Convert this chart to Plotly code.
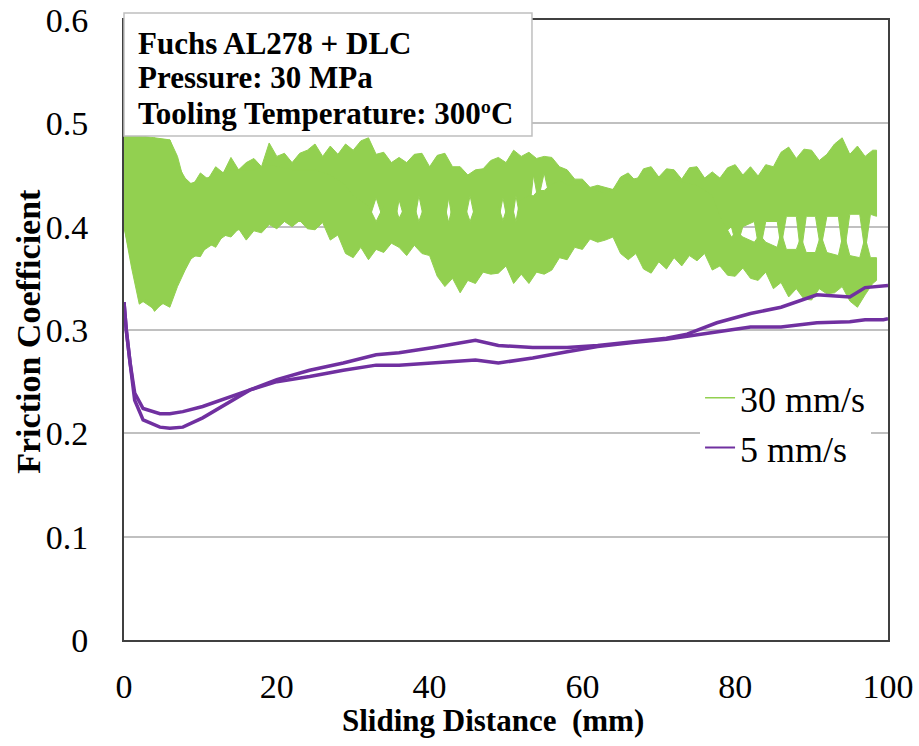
import plotly.graph_objects as go

# ---- 30 mm/s: two repeat runs, each drawn as the band its oscillation covers ----
# run 1 (upper band): top edge
r1_top_x = list(range(0, 99)) + [98.5]
r1_top_y = [0.490, 0.486, 0.488, 0.482, 0.486, 0.478, 0.484, 0.460, 0.447, 0.440,
            0.452, 0.446, 0.458, 0.452, 0.467, 0.455, 0.462, 0.466, 0.458, 0.481,
            0.468, 0.471, 0.462, 0.471, 0.474, 0.480, 0.468, 0.478, 0.470, 0.480,
            0.474, 0.483, 0.486, 0.470, 0.472, 0.462, 0.467, 0.462, 0.470, 0.471,
            0.458, 0.469, 0.471, 0.458, 0.458, 0.450, 0.455, 0.456, 0.464, 0.467,
            0.462, 0.474, 0.468, 0.472, 0.466, 0.468, 0.467, 0.458, 0.455, 0.446,
            0.446, 0.438, 0.440, 0.438, 0.436, 0.448, 0.452, 0.444, 0.456, 0.458,
            0.448, 0.456, 0.455, 0.446, 0.457, 0.458, 0.447, 0.453, 0.447, 0.457,
            0.460, 0.450, 0.458, 0.449, 0.460, 0.458, 0.472, 0.477, 0.466, 0.475,
            0.474, 0.464, 0.470, 0.480, 0.486, 0.470, 0.478, 0.468, 0.474, 0.474]
# run 1: bottom edge
r1_low_x = [0, 2, 4, 6, 8, 10, 14, 19, 25, 30,
            32, 33, 34, 35.5, 36, 36.8, 38, 38.6, 39.3, 42, 42.5, 43, 44.6, 45.3, 46,
            49, 49.6, 50.2, 50.8, 51.3, 51.8, 53, 53.6, 54.2, 55, 55.8, 57,
            58, 60, 63, 66, 69, 73, 76,
            77, 78, 79.5, 80.2, 81, 82.5, 83.2, 84, 85.5, 86, 86.7, 88, 88.6, 89.3,
            90.5, 91.2, 92, 93.5, 94.2, 95, 96.3, 97, 97.7, 98.5]
r1_low_y = [0.40, 0.33, 0.32, 0.33, 0.365, 0.375, 0.395, 0.405, 0.405, 0.405,
            0.405, 0.428, 0.405, 0.405, 0.426, 0.405, 0.405, 0.43, 0.405, 0.405,
            0.428, 0.405, 0.405, 0.43, 0.405, 0.405, 0.428, 0.405, 0.405, 0.43,
            0.41, 0.412, 0.45, 0.425, 0.452, 0.425, 0.42,
            0.41, 0.395, 0.395, 0.385, 0.38, 0.385, 0.39,
            0.39, 0.39, 0.40, 0.38, 0.40, 0.405, 0.375, 0.405, 0.405, 0.38, 0.41,
            0.41, 0.372, 0.41, 0.41, 0.378, 0.41, 0.41, 0.37, 0.412, 0.412, 0.375,
            0.412, 0.41]

# run 2 (lower band): top edge
r2_top_x = [0, 2, 4, 6, 7, 8, 10, 12, 14, 17, 19, 22, 25, 27, 29, 30,
            32, 33, 34, 35.5, 36, 36.8, 38, 38.6, 39.3, 42, 42.5, 43, 44.6, 45.3, 46,
            49, 49.6, 50.2, 50.8, 51.3, 51.8, 53, 53.6, 54.2, 55, 55.8, 57,
            58, 60, 63, 66, 69, 72, 75,
            77, 78, 79.5, 80.2, 81, 82.5, 83.2, 84, 85.5, 86, 86.7, 88, 88.6, 89.3,
            90.5, 91.2, 92, 93.5, 94.2, 95, 96.3, 97, 97.7, 98.5]
r2_top_y = [0.49, 0.488, 0.486, 0.484, 0.468, 0.44, 0.445, 0.45, 0.455, 0.455, 0.46,
            0.455, 0.455, 0.45, 0.44, 0.43,
            0.42, 0.405, 0.42, 0.42, 0.408, 0.42, 0.42, 0.405, 0.42, 0.42, 0.404,
            0.42, 0.42, 0.405, 0.42, 0.42, 0.406, 0.42, 0.42, 0.405, 0.425, 0.43,
            0.43, 0.435, 0.435, 0.44, 0.445,
            0.44, 0.44, 0.432, 0.445, 0.45, 0.445, 0.44,
            0.43, 0.41, 0.39, 0.395, 0.39, 0.385, 0.392, 0.385, 0.38, 0.395, 0.378,
            0.378, 0.39, 0.375, 0.375, 0.392, 0.375, 0.372, 0.395, 0.372, 0.37,
            0.39, 0.37, 0.37]
# run 2: bottom edge
r2_low_x = list(range(0, 99)) + [98.5]
r2_low_y = [0.400, 0.360, 0.325, 0.330, 0.318, 0.326, 0.322, 0.342, 0.358, 0.372,
            0.371, 0.384, 0.380, 0.392, 0.390, 0.398, 0.387, 0.396, 0.394, 0.402,
            0.398, 0.405, 0.400, 0.406, 0.398, 0.397, 0.404, 0.387, 0.392, 0.374,
            0.370, 0.380, 0.368, 0.378, 0.375, 0.384, 0.380, 0.372, 0.382, 0.374,
            0.372, 0.352, 0.342, 0.350, 0.336, 0.348, 0.345, 0.356, 0.354, 0.355,
            0.362, 0.345, 0.354, 0.345, 0.356, 0.354, 0.358, 0.370, 0.368, 0.380,
            0.378, 0.388, 0.385, 0.387, 0.390, 0.374, 0.368, 0.374, 0.359, 0.355,
            0.366, 0.359, 0.370, 0.362, 0.372, 0.367, 0.374, 0.358, 0.362, 0.353,
            0.352, 0.360, 0.350, 0.348, 0.356, 0.340, 0.346, 0.332, 0.340, 0.330,
            0.329, 0.340, 0.335, 0.336, 0.342, 0.328, 0.322, 0.334, 0.345, 0.348]

# ---- 5 mm/s: two repeat runs ----
px5 = [0, 0.3, 0.8, 1.4, 2.5, 4.7, 6, 7.7, 10.3, 13.5, 16.5, 20, 24.3, 28.7, 33, 36,
       40.5, 46, 49, 53.5, 58, 62, 66.6, 71, 73.7, 77.6, 82, 86, 90.7, 95, 97, 99.4, 100]
run1_5 = [0.327, 0.30, 0.268, 0.239, 0.224, 0.219, 0.219, 0.221, 0.226, 0.234, 0.242,
          0.252, 0.261, 0.268, 0.276, 0.278, 0.283, 0.290, 0.285, 0.283, 0.283, 0.285,
          0.289, 0.292, 0.296, 0.307, 0.316, 0.322, 0.334, 0.332, 0.341, 0.342, 0.343]
run2_5 = [0.327, 0.30, 0.268, 0.232, 0.213, 0.206, 0.205, 0.206, 0.215, 0.229, 0.242,
          0.250, 0.255, 0.261, 0.266, 0.266, 0.268, 0.271, 0.268, 0.273, 0.279, 0.284,
          0.288, 0.291, 0.294, 0.298, 0.303, 0.303, 0.307, 0.308, 0.310, 0.310, 0.311]

yticks = [0, 0.1, 0.2, 0.3, 0.4, 0.5, 0.6]
ytick_text = ["0", "0.1", "0.2", "0.3", "0.4", "0.5", "0.6"]
xticks = [0, 20, 40, 60, 80, 100]

note_lines = ["Fuchs AL278 + DLC", "Pressure: 30 MPa", "Tooling Temperature: 300ºC"]
x_title = "Sliding Distance  (mm)"
y_title = "Friction Coefficient"

GREEN = "#92D050"
PURPLE = "#7030A0"
FONT = "Liberation Serif"

fig = go.Figure()

for tx, ty, lx, ly in [(r1_top_x, r1_top_y, r1_low_x, r1_low_y),
                       (r2_top_x, r2_top_y, r2_low_x, r2_low_y)]:
    fig.add_trace(go.Scatter(
        x=tx + lx[::-1], y=ty + ly[::-1], mode="lines", fill="toself",
        fillcolor=GREEN, line=dict(color=GREEN, width=1),
        showlegend=False, hoverinfo="skip"))

for ys in (run1_5, run2_5):
    fig.add_trace(go.Scatter(
        x=px5, y=ys, mode="lines", line=dict(color=PURPLE, width=3.5),
        showlegend=False))

# legend entries
fig.add_trace(go.Scatter(x=[None], y=[None], mode="lines", name="30 mm/s",
                         line=dict(color=GREEN, width=1.5)))
fig.add_trace(go.Scatter(x=[None], y=[None], mode="lines", name="5 mm/s",
                         line=dict(color=PURPLE, width=2)))

# white backing that extends the legend area to the left over the gridline
fig.add_shape(type="rect", xref="paper", yref="paper", x0=0.730, x1=0.77,
              y0=0.3145, y1=0.355, fillcolor="white", line=dict(width=0),
              layer="between")

# note box
fig.add_shape(type="rect", xref="paper", yref="paper", x0=0, x1=0.534,
              y0=0.8129, y1=1.0113, fillcolor="white",
              line=dict(color="#bfbfbf", width=1.5), layer="above")
for line, yp in zip(note_lines, [0.9613, 0.9065, 0.85]):
    fig.add_annotation(xref="paper", yref="paper", x=0.016, y=yp,
                       xanchor="left", yanchor="middle", showarrow=False,
                       text="<b>" + line + "</b>",
                       font=dict(family=FONT, size=31, color="black"))

# axis titles
fig.add_annotation(xref="paper", yref="paper", x=0.483, y=-0.1306,
                   xanchor="center", yanchor="middle", showarrow=False,
                   text="<b>" + x_title + "</b>",
                   font=dict(family=FONT, size=31, color="black"))
fig.add_annotation(xref="paper", yref="paper", x=-0.125, y=0.498,
                   xanchor="center", yanchor="middle", showarrow=False,
                   textangle=-90, text="<b>" + y_title + "</b>",
                   font=dict(family=FONT, size=34, color="black"))

fig.update_layout(
    width=919, height=746,
    margin=dict(l=124, r=31, t=20, b=106),
    paper_bgcolor="white", plot_bgcolor="white",
    font=dict(family=FONT, color="black"),
    legend=dict(x=0.754, y=0.439, xanchor="left", yanchor="top",
                bgcolor="white", font=dict(family=FONT, size=36),
                tracegroupgap=0, itemwidth=30),
    xaxis=dict(range=[0, 100], tickvals=xticks, showgrid=False, zeroline=False,
               showline=True, linecolor="#404040", linewidth=2, mirror=True,
               ticks="", tickfont=dict(size=34), ticklabelstandoff=15,
               automargin=False),
    yaxis=dict(range=[0, 0.6], tickvals=yticks, ticktext=ytick_text,
               showgrid=True, gridcolor="#c0c0c0", gridwidth=1.5, zeroline=False,
               showline=True, linecolor="#404040", linewidth=2, mirror=True,
               ticks="", tickfont=dict(size=34), ticklabelstandoff=27,
               automargin=False),
)

fig.write_html("out.html")
